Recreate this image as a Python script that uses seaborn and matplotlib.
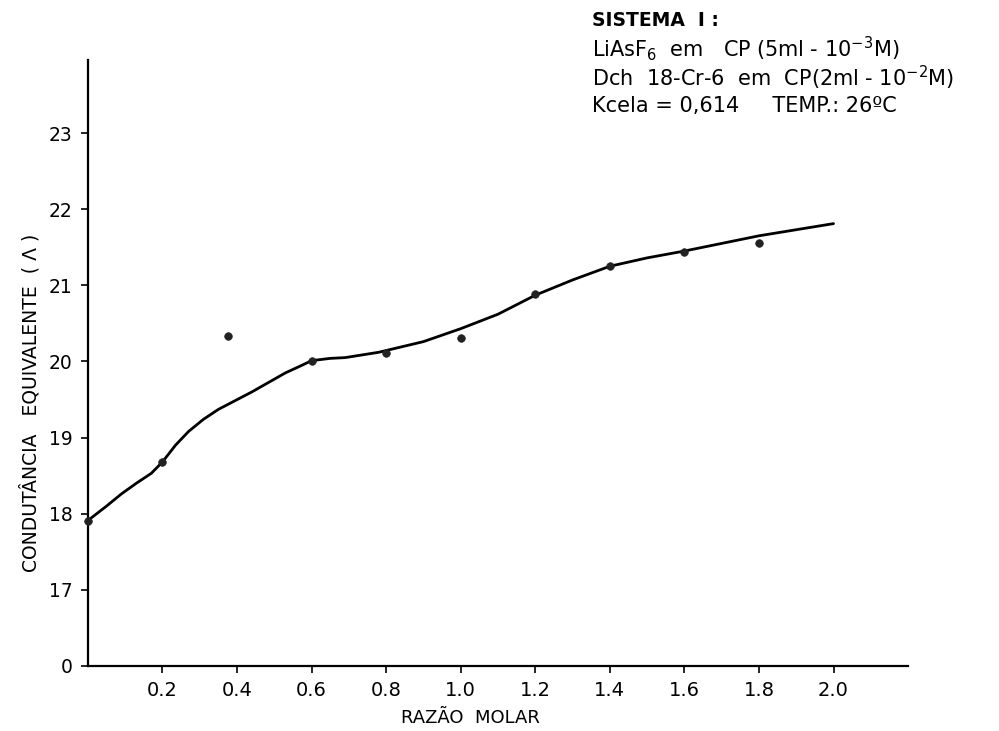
import matplotlib
matplotlib.use("Agg")
import matplotlib.pyplot as plt
import seaborn as sns
import pandas as pd

# measured points
ratio = [0.0, 0.2, 0.375, 0.6, 0.8, 1.0, 1.2, 1.4, 1.6, 1.8]
conductance = [17.91, 18.68, 20.33, 20.01, 20.11, 20.31, 20.88, 21.25, 21.44, 21.55]

# hand-drawn fitted curve
curve_x = [0.0, 0.05, 0.09, 0.13, 0.17, 0.2, 0.235, 0.27, 0.31, 0.35, 0.44, 0.53, 0.57, 0.60,
           0.65, 0.69, 0.78, 0.90, 1.0, 1.1, 1.2, 1.3, 1.4, 1.5, 1.6, 1.7, 1.8, 1.9, 2.0]
curve_y = [17.91, 18.10, 18.26, 18.40, 18.53, 18.68, 18.90, 19.08, 19.24, 19.37, 19.60, 19.85,
           19.94, 20.01, 20.04, 20.05, 20.12, 20.26, 20.43, 20.62, 20.87, 21.07, 21.25, 21.36,
           21.45, 21.55, 21.65, 21.73, 21.81]

x_ticks = [0.2, 0.4, 0.6, 0.8, 1.0, 1.2, 1.4, 1.6, 1.8, 2.0]
x_tick_labels = ["0.2", "0.4", "0.6", "0.8", "1.0", "1.2", "1.4", "1.6", "1.8", "2.0"]
y_ticks = [16, 17, 18, 19, 20, 21, 22, 23]
y_tick_labels = ["0", "17", "18", "19", "20", "21", "22", "23"]

sns.set_style("ticks")
plt.rcParams['font.family'] = ['DejaVu Sans']
plt.rcParams['text.color'] = 'black'
plt.rcParams['xtick.color'] = 'black'
plt.rcParams['ytick.color'] = 'black'

fig = plt.figure(figsize=(9.99, 7.31), dpi=100)
ax = fig.add_axes([0.088, 0.089, 0.821, 0.829])

df_curve = pd.DataFrame({"x": curve_x, "y": curve_y})
df_pts = pd.DataFrame({"x": ratio, "y": conductance})

sns.lineplot(data=df_curve, x="x", y="y", ax=ax, color="black", linewidth=2.0,
             sort=False, estimator=None)
sns.scatterplot(data=df_pts, x="x", y="y", ax=ax, color="#222222", s=30,
                edgecolor="#222222", linewidth=0.5, zorder=3, clip_on=False)

ax.set_xlim(0, 2.2)
ax.set_ylim(16, 23.96)
ax.set_xticks(x_ticks)
ax.set_xticklabels(x_tick_labels, fontsize=14)
ax.set_yticks(y_ticks)
ax.set_yticklabels(y_tick_labels, fontsize=13.5)
ax.tick_params(axis="both", length=5, width=1.2, color="black", pad=6, labelcolor="black")
ax.set_xlabel("")
ax.set_ylabel("")
for s in ["top", "right"]:
    ax.spines[s].set_visible(False)
for s in ["left", "bottom"]:
    ax.spines[s].set_linewidth(1.6)
    ax.spines[s].set_color("black")

fig.text(470 / 999, 1 - 718 / 731, "RAZÃO  MOLAR", ha="center", va="center", fontsize=13)
fig.text(30 / 999, 1 - 403 / 731, "CONDUTÂNCIA   EQUIVALENTE  ( Λ )",
         ha="center", va="center", rotation=90, fontsize=13.5)

tx = 592 / 999
fs = 15
fig.text(tx, 1 - 20 / 731, "SISTEMA  I :", ha="left", va="center", fontsize=13.5,
         fontweight="bold")
fig.text(tx, 1 - 49 / 731, r"LiAsF$_6$  em   CP (5ml - 10$^{-3}$M)", ha="left", va="center", fontsize=fs)
fig.text(tx, 1 - 78 / 731, r"Dch  18-Cr-6  em  CP(2ml - 10$^{-2}$M)", ha="left", va="center", fontsize=fs)
fig.text(tx, 1 - 106 / 731, "Kcela = 0,614     TEMP.: 26ºC", ha="left", va="center", fontsize=fs)

fig.savefig("out.png", dpi=100)
